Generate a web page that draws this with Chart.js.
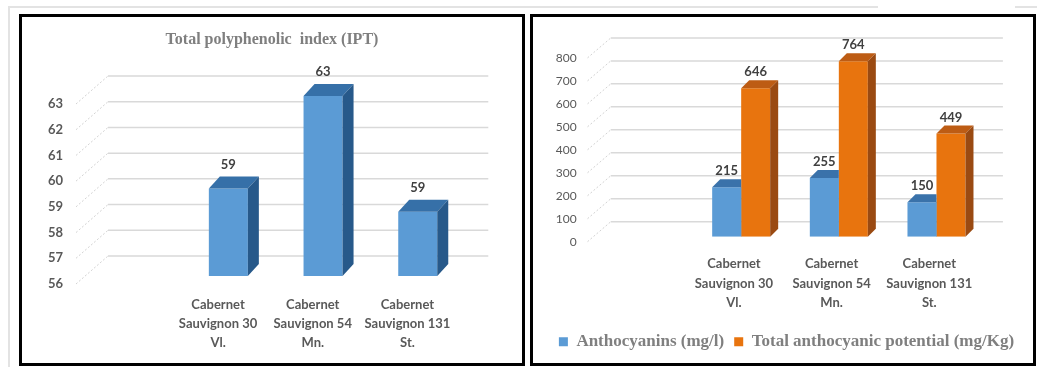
<!DOCTYPE html>
<html>
<head>
<meta charset="utf-8">
<script src="https://cdn.jsdelivr.net/npm/chart.js@4.4.1/dist/chart.umd.min.js"></script>
<style>
html,body{margin:0;padding:0;background:#fff;width:1037px;height:367px;overflow:hidden;}
.frame{position:absolute;background:#e3e3e3;}
.panel{position:absolute;top:14px;height:352px;border:3px solid #000;box-sizing:border-box;background:#fff;}
canvas{position:absolute;top:0;}
</style>
</head>
<body>
<div class="frame" style="left:8px;top:6px;width:870px;height:2px"></div>
<div class="frame" style="left:1015px;top:6px;width:22px;height:2px"></div>
<div class="frame" style="left:8px;top:6px;width:2px;height:361px"></div>
<div class="panel" style="left:19px;width:506px"></div>
<div class="panel" style="left:530px;width:506px"></div>
<canvas id="c1" width="544" height="367" style="left:0"></canvas>
<canvas id="c2" width="507" height="367" style="left:530px"></canvas>
<script>
// ---- data ----
const categories = [
  '',
  ['Cabernet', 'Sauvignon 30', 'Vl.'],
  ['Cabernet', 'Sauvignon 54', 'Mn.'],
  ['Cabernet', 'Sauvignon 131', 'St.']
];
const iptValues = [null, 59.4, 63.0, 58.5];
const anthocyanins = [null, 215, 255, 150];
const totalPotential = [null, 646, 764, 449];
const iptTickValues = [56, 57, 58, 59, 60, 61, 62, 63];
const anthoTickValues = [0, 100, 200, 300, 400, 500, 600, 700, 800];
const iptTitle = 'Total polyphenolic  index (IPT)';
const seriesNames = ['Anthocyanins (mg/l)', 'Total anthocyanic potential (mg/Kg)'];

// ---- pseudo-3D plugin ----
const bar3d = {
  id: 'bar3d',
  beforeDatasetsDraw(chart, args, o) {
    const { ctx, chartArea: ca, scales: { y } } = chart;
    const frontLeft = ca.left - o.shift;
    const backLeft = frontLeft + o.gridDx;
    const backRight = ca.right - o.shift + o.gridDx + o.gridExtra;
    ctx.save();
    y.ticks.forEach(t => {
      const p = y.getPixelForValue(t.value);
      const fy = p + o.labelDy, by = p + o.gridDy;
      ctx.strokeStyle = '#d2d2d2';
      ctx.lineWidth = 1;
      ctx.setLineDash([2, 2]);
      ctx.beginPath(); ctx.moveTo(frontLeft, fy); ctx.lineTo(backLeft, by); ctx.stroke();
      ctx.setLineDash([]);
      ctx.strokeStyle = '#d9d9d9';
      ctx.lineWidth = 1.5;
      ctx.beginPath(); ctx.moveTo(backLeft, by); ctx.lineTo(backRight, by); ctx.stroke();
    });
    ctx.restore();
  },
  afterDatasetsDraw(chart, args, o) {
    const { ctx, chartArea: ca } = chart;
    const metas = chart.getSortedVisibleDatasetMetas();
    const geom = el => {
      const p = el.getProps(['x', 'y', 'base', 'width'], true);
      return { x: p.x, y: Math.max(p.y, ca.top), base: Math.min(p.base, ca.bottom), width: p.width };
    };
    metas.forEach((meta, mi) => {
      const ds = chart.data.datasets[meta.index];
      meta.data.forEach((el, j) => {
        if (ds.data[j] == null) return;
        const { x, y, base, width } = geom(el);
        const l = x - width / 2, r = x + width / 2;
        ctx.save();
        ctx.beginPath();
        ctx.rect(0, 0, chart.width, chart.height);
        metas.slice(mi + 1).forEach(m2 => {
          const d2 = chart.data.datasets[m2.index];
          if (d2.data[j] == null) return;
          const e2 = geom(m2.data[j]);
          ctx.rect(e2.x - e2.width / 2, e2.y, e2.width, e2.base - e2.y);
        });
        ctx.clip('evenodd');
        ctx.fillStyle = ds.topColor;
        ctx.beginPath();
        ctx.moveTo(l, y); ctx.lineTo(r, y);
        ctx.lineTo(r + o.depthX, y + o.depthY); ctx.lineTo(l + o.depthX, y + o.depthY);
        ctx.closePath(); ctx.fill();
        ctx.fillStyle = ds.sideColor;
        ctx.beginPath();
        ctx.moveTo(r, y); ctx.lineTo(r + o.depthX, y + o.depthY);
        ctx.lineTo(r + o.depthX, base + o.depthY); ctx.lineTo(r, base);
        ctx.closePath(); ctx.fill();
        ctx.restore();
      });
    });
    // value labels
    ctx.save();
    ctx.font = 'bold ' + o.labelSize + 'px Lato';
    ctx.fillStyle = '#404040';
    ctx.textAlign = 'center';
    ctx.textBaseline = 'middle';
    metas.forEach(meta => {
      const ds = chart.data.datasets[meta.index];
      meta.data.forEach((el, j) => {
        if (ds.data[j] == null) return;
        const { x, y } = geom(el);
        ctx.fillText(String(Math.round(ds.data[j])), x, y - o.labelGap);
      });
    });
    ctx.restore();
  }
};

const tickFontBold = { family: 'Lato', size: 13, weight: 'bold' };

// ---- left chart ----
new Chart(document.getElementById('c1'), {
  type: 'bar',
  data: {
    labels: categories,
    datasets: [{
      label: iptTitle,
      data: iptValues,
      backgroundColor: '#5b9bd5',
      borderWidth: 0,
      topColor: '#3670a8',
      sideColor: '#27598a',
      categoryPercentage: 0.412,
      barPercentage: 1
    }]
  },
  options: {
    responsive: false,
    animation: false,
    events: [],
    layout: { padding: 0 },
    plugins: {
      legend: { display: false },
      tooltip: { enabled: false },
      title: {
        display: true,
        text: iptTitle,
        color: '#7f7f7f',
        font: { family: 'Liberation Serif', size: 16, weight: 'bold', lineHeight: 1.2 },
        padding: { top: 30.4, bottom: 46.4 }
      },
      bar3d: { shift: 10.3, gridDx: 32, gridDy: -20, labelDy: 8, gridExtra: 1.5, depthX: 11, depthY: -12, labelGap: 24, labelSize: 13 }
    },
    scales: {
      x: {
        grid: { display: false, drawTicks: false },
        border: { display: false },
        ticks: { autoSkip: false, maxRotation: 0, padding: 19.5, labelOffset: -10.3, color: '#595959',
                 font: { family: 'Lato', size: 13, weight: 'bold', lineHeight: 1.46 } },
        afterFit: s => { s.height = 91; }
      },
      y: {
        min: iptTickValues[0],
        max: iptTickValues[iptTickValues.length - 1],
        grid: { display: false, drawTicks: false },
        border: { display: false },
        ticks: { stepSize: 1, padding: 23.3, labelOffset: 8, color: '#595959', font: tickFontBold },
        afterFit: s => { s.width = 86.3; }
      },
      pad: {
        type: 'linear', position: 'right', display: true,
        grid: { display: false, drawTicks: false }, border: { display: false },
        ticks: { display: false },
        afterFit: s => { s.width = 78.9; }
      }
    }
  },
  plugins: [bar3d]
});

// ---- right chart ----
new Chart(document.getElementById('c2'), {
  type: 'bar',
  data: {
    labels: categories,
    datasets: [{
      label: seriesNames[0],
      data: anthocyanins,
      backgroundColor: '#5b9bd5',
      borderWidth: 0,
      topColor: '#3a72aa',
      sideColor: '#27598a',
      categoryPercentage: 0.594,
      barPercentage: 1
    }, {
      label: seriesNames[1],
      data: totalPotential,
      backgroundColor: '#e8740e',
      borderWidth: 0,
      topColor: '#bd5c14',
      sideColor: '#9a4a12',
      categoryPercentage: 0.594,
      barPercentage: 1
    }]
  },
  options: {
    responsive: false,
    animation: false,
    events: [],
    layout: { padding: { left: 6, top: 52.9, right: 0, bottom: 6.8 } },
    plugins: {
      tooltip: { enabled: false },
      title: { display: false },
      legend: {
        display: true,
        position: 'bottom',
        labels: {
          boxWidth: 9, boxHeight: 9, padding: 10, color: '#7f7f7f',
          font: { family: 'Liberation Serif', size: 17, weight: 'bold' }
        }
      },
      bar3d: { shift: 7.2, gridDx: 23.3, gridDy: -15, labelDy: 5, gridExtra: 1.5, depthX: 8, depthY: -8, labelGap: 16, labelSize: 13 }
    },
    scales: {
      x: {
        grid: { display: false, drawTicks: false },
        border: { display: false },
        ticks: { autoSkip: false, maxRotation: 0, padding: 17.5, labelOffset: -7.2, color: '#595959',
                 font: { family: 'Lato', size: 13, weight: 'bold', lineHeight: 1.5 } },
        afterFit: s => { s.height = 86.5; }
      },
      y: {
        min: anthoTickValues[0],
        max: anthoTickValues[anthoTickValues.length - 1],
        grid: { display: false, drawTicks: false },
        border: { display: false },
        ticks: { stepSize: 100, padding: 18, labelOffset: 5, color: '#595959',
                 font: { family: 'Lato', size: 12, weight: 'normal' } },
        afterFit: s => { s.width = 58.7; }
      },
      pad: {
        type: 'linear', position: 'right', display: true,
        grid: { display: false, drawTicks: false }, border: { display: false },
        ticks: { display: false },
        afterFit: s => { s.width = 51.7; }
      }
    }
  },
  plugins: [bar3d]
});
</script>
</body>
</html>
